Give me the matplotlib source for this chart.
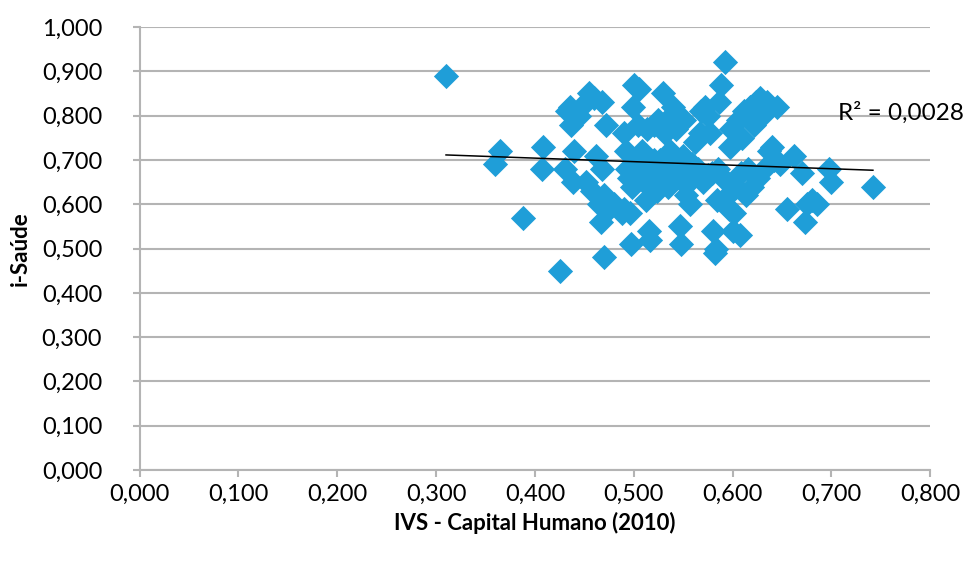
import matplotlib
matplotlib.use('Agg')
import matplotlib.pyplot as plt
from matplotlib.ticker import FuncFormatter, MultipleLocator
import numpy as np

plt.rcParams['font.family'] = ['Lato', 'DejaVu Sans']

# IVS - Capital Humano (2010)
ivs = [0.310, 0.365, 0.360, 0.388, 0.408, 0.407, 0.425, 0.430, 0.432, 0.435,
       0.436, 0.438, 0.440, 0.445, 0.447, 0.452, 0.455, 0.458, 0.460, 0.462,
       0.465, 0.467, 0.468, 0.468, 0.470, 0.472, 0.475, 0.480, 0.488, 0.490,
       0.492, 0.493, 0.495, 0.496, 0.497, 0.498, 0.499, 0.500, 0.502, 0.504,
       0.505, 0.506, 0.508, 0.510, 0.512, 0.513, 0.515, 0.516, 0.518, 0.520,
       0.522, 0.524, 0.525, 0.527, 0.530, 0.532, 0.533, 0.535, 0.537, 0.538,
       0.540, 0.541, 0.543, 0.545, 0.547, 0.548, 0.550, 0.551, 0.553, 0.555,
       0.557, 0.559, 0.562, 0.565, 0.567, 0.568, 0.570, 0.572, 0.575, 0.577,
       0.579, 0.580, 0.582, 0.583, 0.584, 0.585, 0.586, 0.588, 0.592, 0.594,
       0.596, 0.597, 0.598, 0.600, 0.601, 0.603, 0.605, 0.607, 0.609, 0.610,
       0.612, 0.614, 0.616, 0.618, 0.620, 0.622, 0.624, 0.626, 0.628, 0.630,
       0.632, 0.635, 0.637, 0.640, 0.642, 0.645, 0.648, 0.655, 0.662, 0.670,
       0.673, 0.675, 0.680, 0.685, 0.698, 0.700, 0.742,
       0.470, 0.490, 0.530, 0.560, 0.515, 0.545, 0.575, 0.595, 0.520, 0.550]

# i-Saúde
isaude = [0.890, 0.720, 0.690, 0.570, 0.730, 0.680, 0.450, 0.680, 0.810, 0.820,
          0.780, 0.650, 0.720, 0.800, 0.820, 0.650, 0.850, 0.630, 0.840, 0.710,
          0.600, 0.560, 0.680, 0.830, 0.480, 0.780, 0.590, 0.600, 0.580, 0.760,
          0.720, 0.680, 0.660, 0.580, 0.510, 0.640, 0.820, 0.870, 0.700, 0.780,
          0.860, 0.670, 0.720, 0.650, 0.610, 0.770, 0.540, 0.520, 0.690, 0.780,
          0.660, 0.630, 0.790, 0.700, 0.850, 0.760, 0.680, 0.640, 0.720, 0.800,
          0.820, 0.660, 0.770, 0.700, 0.550, 0.510, 0.650, 0.790, 0.620, 0.670,
          0.600, 0.690, 0.740, 0.680, 0.760, 0.810, 0.650, 0.820, 0.800, 0.760,
          0.670, 0.540, 0.490, 0.500, 0.610, 0.680, 0.830, 0.870, 0.920, 0.650,
          0.590, 0.730, 0.770, 0.540, 0.580, 0.640, 0.790, 0.530, 0.670, 0.750,
          0.810, 0.620, 0.680, 0.820, 0.640, 0.780, 0.830, 0.660, 0.840, 0.800,
          0.680, 0.830, 0.720, 0.730, 0.700, 0.820, 0.690, 0.590, 0.710, 0.670,
          0.560, 0.600, 0.610, 0.600, 0.680, 0.650, 0.640,
          0.620, 0.590, 0.660, 0.660, 0.675, 0.680, 0.665, 0.620, 0.700, 0.710]

r2_label = 'R² = 0,0028'

fig = plt.figure(figsize=(9.7, 5.63), dpi=100)
ax = fig.add_axes([0.144, 0.165, 0.815, 0.787])

ax.scatter(ivs, isaude, marker='D', s=165, color='#1f9ed8', linewidths=0, zorder=3)

# linear trendline
coef = np.polyfit(ivs, isaude, 1)
xs = np.array([min(ivs), max(ivs)])
ax.plot(xs, np.polyval(coef, xs), color='black', lw=1.1, zorder=4)

ax.text(0.707, 0.806, r2_label, fontsize=17.5, ha='left', va='center', clip_on=False, zorder=5)

ax.set_xlim(0, 0.8)
ax.set_ylim(0, 1.0)
ax.xaxis.set_major_locator(MultipleLocator(0.1))
ax.yaxis.set_major_locator(MultipleLocator(0.1))
fmt = FuncFormatter(lambda v, p: ('%.3f' % v).replace('.', ','))
ax.xaxis.set_major_formatter(fmt)
ax.yaxis.set_major_formatter(fmt)

ax.grid(axis='y', color='#b4b4b4', lw=1.5, zorder=0)
ax.set_axisbelow(True)
for s in ['top', 'right']:
    ax.spines[s].set_visible(False)
for s in ['left', 'bottom']:
    ax.spines[s].set_color('#b4b4b4')
    ax.spines[s].set_linewidth(1.5)
ax.tick_params(axis='both', colors='#b4b4b4', labelcolor='black', labelsize=17,
               length=5, width=1.5)
ax.tick_params(axis='y', pad=22)
ax.tick_params(axis='x', pad=5)

ax.set_xlabel('IVS - Capital Humano (2010)', fontsize=16, fontweight='bold', labelpad=5)
ax.set_ylabel('i-Saúde', fontsize=16, fontweight='bold', labelpad=8)

fig.savefig('out.png', dpi=100)
